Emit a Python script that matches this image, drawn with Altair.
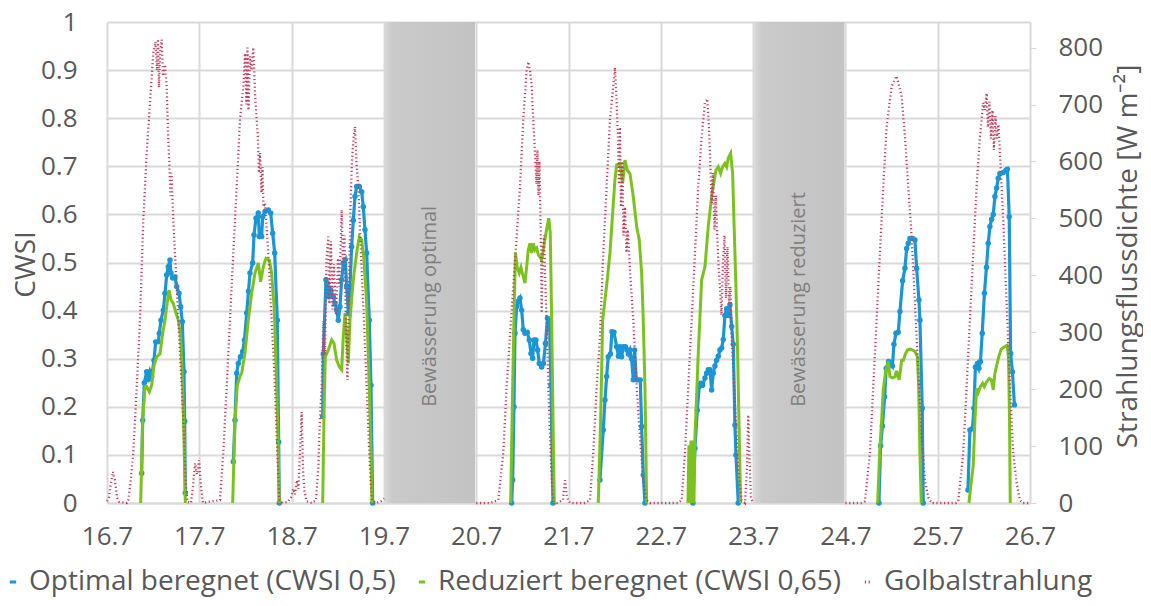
import altair as alt
import pandas as pd
import numpy as np

# ---------------- data (hours since 16.7. 00:00) ----------------
rad_t = [0.0, 0.52, 1.04, 1.56, 2.08, 2.6, 3.12, 5.2, 5.54, 6.24, 6.84, 7.72, 8.58, 9.44, 10.32, 11.18,
         12.04, 12.61, 13.0, 13.26, 13.52, 13.78, 14.22, 14.56, 15.08, 15.52, 15.86, 16.25, 16.51, 16.77,
         17.24, 18.12, 18.98, 19.84, 20.54, 20.93, 21.84, 22.36, 22.88, 23.4, 23.92, 24.44, 24.96,
         27.3, 29.38, 30.24, 31.12, 31.98, 32.84, 33.72, 34.58, 35.44, 35.88, 36.27, 36.53, 36.79, 37.18,
         37.57, 38.04, 38.48, 38.92, 39.26, 39.52, 39.78, 40.17, 40.43, 40.69, 41.08, 41.94, 42.82, 43.68,
         44.28, 44.8, 45.76, 47.06, 47.84, 48.44, 48.88, 49.4, 49.79, 50.18, 50.62, 50.96, 51.35, 51.92,
         53.3, 54.34, 54.94, 55.38, 55.82, 56.29, 56.68, 57.07, 57.54, 57.85, 58.24, 58.63, 59.02, 59.54,
         60.06, 60.45, 61.02, 61.36, 61.75, 62.14, 62.53, 62.92, 63.31, 63.7, 64.09, 64.48, 64.87, 65.34,
         65.78, 66.22, 66.82, 67.52, 68.2, 68.82, 69.94, 71.24, 72.02,
         96.0, 99.58, 101.74, 103.04, 103.92, 104.78, 105.64, 106.52, 107.38, 108.24, 109.12, 109.59,
         109.98, 110.42, 110.84, 111.28, 111.67, 111.93, 112.19, 112.45, 112.84, 113.02, 113.36, 113.62,
         114.01, 114.4, 114.79, 115.18, 115.7, 116.09, 117.0, 118.56, 119.08, 119.6, 120.38,
         124.28, 125.58, 126.44, 127.32, 128.18, 129.04, 129.92, 130.78, 131.64, 132.08, 132.52, 132.86,
         133.12, 133.38, 133.64, 134.03, 134.29, 134.68, 135.07, 135.46, 135.98, 136.84, 137.72, 138.58,
         139.44, 140.32, 141.18,
         148.46, 149.42, 150.28, 151.14, 152.02, 152.88, 153.74, 154.62, 155.48, 156.08, 156.52, 156.78,
         157.22, 157.56, 157.95, 158.34, 158.52, 158.99, 159.38, 159.77, 160.16, 160.55, 160.94, 161.33,
         161.72, 162.11, 162.42, 163.28, 164.14, 165.02, 165.88, 166.4, 166.74, 167.05, 167.44, 167.96,
         192.0, 196.3, 197.08, 198.38, 199.24, 200.12, 200.98, 201.84, 202.72, 204.02, 205.32, 206.62,
         207.48, 208.34, 209.22, 210.08, 210.94, 211.82, 212.68, 213.54, 214.42,
         220.74, 221.34, 222.64, 223.52, 224.38, 225.24, 226.12, 226.98, 227.84, 228.28, 228.72, 229.06,
         229.45, 229.84, 230.23, 230.62, 231.01, 231.4, 231.79, 232.18, 233.04, 233.92, 234.78, 235.64,
         236.52, 237.38, 238.16, 240.0]
rad_v = [3, 10, 35, 55, 40, 10, 2, 0, 5, 45, 88, 204, 322, 497, 615, 703,
         791, 810, 760, 815, 730, 790, 814, 750, 770, 732, 650, 590, 540, 580,
         497, 380, 263, 146, 28, 2, 0, 30, 70, 50, 75, 30, 0,
         3, 5, 88, 204, 322, 439, 556, 673, 732, 790, 700, 800, 690, 785,
         760, 800, 720, 673, 640, 580, 615, 545, 590, 520, 527, 439, 322, 204,
         88, 5, 0, 2, 10, 25, 15, 40, 25, 90, 160, 60, 20, 3,
         0, 5, 60, 150, 204, 320, 260, 430, 468, 350, 460, 340, 420, 330,
         430, 380, 515, 420, 470, 300, 216, 380, 520, 600, 640, 661, 600, 556,
         480, 410, 322, 204, 88, 5, 0, 3, 8,
         0, 0, 5, 88, 204, 292, 380, 468, 556, 673, 761, 775,
         761, 732, 673, 615, 560, 620, 540, 600, 450, 334, 450, 470,
         380, 300, 200, 120, 30, 3, 0, 5, 40, 10, 0,
         0, 5, 88, 204, 292, 439, 556, 673, 732, 765, 703, 640,
         560, 660, 520, 600, 470, 520, 440, 480, 410, 322, 204, 117,
         40, 5, 0,
         0, 5, 88, 204, 322, 439, 556, 644, 703, 710, 660, 615,
         527, 580, 480, 540, 497, 420, 380, 330, 420, 470, 360, 450,
         350, 380, 292, 175, 58, 5, 0, 60, 155, 80, 10, 0,
         0, 0, 3, 88, 204, 322, 439, 556, 661, 732, 750, 714,
         644, 556, 468, 351, 234, 117, 40, 10, 0,
         0, 3, 88, 204, 322, 439, 556, 644, 703, 690, 720, 660,
         705, 640, 690, 620, 680, 640, 665, 615, 497, 351, 204, 88,
         35, 5, 0, 0]

opt_t = [9.02, 9.28, 9.70, 10.32, 10.74, 11.18, 11.62, 12.22, 12.66, 13.34, 13.60, 14.04, 14.64, 15.08,
         15.52, 15.94, 16.38, 16.64, 17.08, 17.68, 18.12, 18.72, 19.16, 19.58, 20.02, 20.2, 20.36,
         32.84, 33.28, 33.72, 34.14, 34.71, 35.28, 35.75, 36.32, 36.79, 37.18, 37.88, 38.22, 38.74, 39.34,
         39.6, 40.22, 40.48, 41.08, 41.94, 42.56, 43.08, 43.6, 44.28, 44.64, 44.8,
         56.08, 56.24, 56.94, 57.28, 57.64, 58.16, 58.84, 59.28, 59.72, 60.14, 60.58, 61.02, 61.44, 61.96,
         62.32, 62.74, 63.18, 63.62, 64.04, 64.48, 64.92, 65.6, 66.22, 66.64, 67.08, 67.52, 68.2, 68.64, 69.08,
         105.22, 105.48, 105.82, 106.08, 106.52, 106.99, 107.38, 107.82, 108.24, 108.68, 109.28, 109.8,
         110.24, 110.68, 111.02, 111.54, 111.98, 112.4, 113.02, 113.49, 114.01, 114.53, 115.05, 115.44, 115.96,
         128.18, 129.04, 129.48, 129.92, 130.34, 130.91, 131.3, 131.82, 132.52, 132.99, 133.38, 133.82,
         134.24, 134.81, 135.2, 135.59, 135.98, 136.42, 136.84, 137.2, 137.62, 138.14, 138.66, 139.02,
         139.44, 139.88,
         152.36, 152.88, 153.48, 154.0, 154.36, 154.88, 155.48, 155.92, 156.34, 156.78, 157.22, 157.64,
         158.08, 158.52, 158.94, 159.38, 159.82, 160.24, 160.68, 161.12, 161.54, 161.98, 162.42, 162.84,
         163.28, 163.54, 164.14,
         200.72, 201.16, 201.63, 202.2, 202.62, 203.24, 203.84, 204.23, 204.62, 205.14, 205.74, 206.18,
         206.88, 207.48, 207.92, 208.34, 208.78, 209.48, 210.08, 210.52, 211.12, 211.38, 211.98, 212.24,
         223.86, 224.38, 225.03, 225.42, 225.81, 226.33, 226.72, 227.11, 227.58, 228.15, 228.67, 229.14,
         229.58, 230.02, 230.44, 230.88, 231.32, 231.74, 232.18, 233.04, 233.74, 234.13, 234.6, 234.96,
         235.43, 235.95]
opt_v = [0.062, 0.172, 0.25, 0.273, 0.256, 0.273, 0.263, 0.297, 0.335, 0.335, 0.353, 0.38, 0.401, 0.436,
         0.474, 0.491, 0.505, 0.478, 0.468, 0.47, 0.45, 0.436, 0.408, 0.377, 0.273, 0.17, 0.021,
         0.086, 0.172, 0.27, 0.29, 0.304, 0.315, 0.339, 0.395, 0.44, 0.478, 0.499, 0.557, 0.592, 0.603,
         0.554, 0.554, 0.595, 0.606, 0.609, 0.603, 0.561, 0.52, 0.38, 0.127, 0.0,
         0.18, 0.31, 0.464, 0.457, 0.429, 0.443, 0.429, 0.415, 0.401, 0.38, 0.408, 0.464, 0.499, 0.506,
         0.45, 0.395, 0.45, 0.533, 0.588, 0.637, 0.658, 0.658, 0.647, 0.616, 0.568, 0.52, 0.38, 0.245, 0.0,
         0.0, 0.048, 0.2, 0.353, 0.408, 0.42, 0.426, 0.401, 0.36, 0.353, 0.355, 0.339,
         0.311, 0.301, 0.339, 0.339, 0.318, 0.29, 0.283, 0.29, 0.332, 0.384, 0.38, 0.245, 0.0,
         0.048, 0.152, 0.214, 0.263, 0.304, 0.31, 0.356, 0.355, 0.325, 0.305, 0.325, 0.304,
         0.325, 0.325, 0.318, 0.31, 0.318, 0.3, 0.256, 0.318, 0.256, 0.256, 0.256, 0.159,
         0.058, 0.0,
         0.0, 0.114, 0.193, 0.242, 0.249, 0.245, 0.26, 0.27, 0.277, 0.277, 0.235, 0.27,
         0.285, 0.297, 0.305, 0.318, 0.322, 0.34, 0.39, 0.404, 0.39, 0.412, 0.367, 0.33,
         0.162, 0.10, 0.0,
         0.0, 0.119, 0.16, 0.221, 0.28, 0.294, 0.29, 0.285, 0.33, 0.353, 0.355, 0.398,
         0.462, 0.488, 0.529, 0.54, 0.55, 0.55, 0.547, 0.488, 0.422, 0.38, 0.197, 0.0,
         0.027, 0.152, 0.155, 0.197, 0.283, 0.29, 0.28, 0.294, 0.353, 0.436, 0.49, 0.54,
         0.575, 0.59, 0.6, 0.637, 0.655, 0.675, 0.685, 0.687, 0.692, 0.694, 0.595, 0.311,
         0.273, 0.204]

red_t = [8.76, 9.28, 9.88, 10.32, 11.0, 11.62, 12.22, 12.92, 13.78, 14.48, 15.08, 15.52, 16.12, 16.64,
         17.24, 17.94, 18.54, 19.16, 19.68, 20.1, 20.36,
         32.68, 33.28, 33.88, 34.58, 35.02, 35.88, 36.74, 37.62, 38.48, 39.34, 39.96, 40.64, 41.34, 42.2,
         42.82, 43.5, 44.12, 44.54, 44.8,
         56.08, 56.42, 56.76, 57.54, 58.42, 59.02, 59.72, 60.4, 61.02, 61.44, 61.88, 62.32, 62.74, 63.18,
         64.04, 64.92, 65.6, 66.22, 66.82, 67.52, 68.2, 68.64, 68.9,
         104.96, 105.48, 105.9, 106.21, 106.68, 107.2, 107.64, 108.24, 108.68, 109.12, 109.54, 109.98,
         110.42, 110.84, 111.28, 111.72, 112.19, 112.58, 113.02, 113.44, 114.22, 114.87, 115.26, 115.62,
         116.04, 116.3,
         127.74, 128.36, 128.88, 129.48, 130.08, 130.78, 131.48, 132.08, 132.52, 133.38, 134.08, 134.68,
         135.28, 135.98, 136.84, 137.72, 138.4, 139.02, 139.44, 139.88, 140.32,
         151.06, 151.32, 151.58, 151.84, 152.1, 152.36, 152.62, 152.88, 153.14, 153.74, 154.62, 155.48,
         156.34, 157.22, 157.64, 158.34, 158.94, 159.56, 160.08, 160.68, 161.12, 161.54, 162.16, 162.68,
         163.02, 163.54, 163.98, 164.4, 164.76,
         200.38, 200.98, 201.42, 201.84, 202.41, 203.14, 203.58, 204.18, 204.88, 205.27, 206.0, 206.62,
         207.09, 207.61, 208.13, 208.78, 209.48, 210.08, 210.73, 211.04, 211.38, 211.72,
         224.12, 224.82, 225.24, 225.68, 226.12, 226.54, 227.11, 227.68, 228.1, 228.72, 229.4, 229.97,
         230.44, 230.88, 231.32, 231.9, 232.52, 233.38, 234.1, 234.42, 234.68, 234.86]
red_v = [0.0, 0.172, 0.242, 0.242, 0.231, 0.245, 0.286, 0.304, 0.31, 0.353, 0.38, 0.408, 0.443, 0.422,
         0.415, 0.395, 0.38, 0.346, 0.242, 0.104, 0.0,
         0.0, 0.172, 0.245, 0.263, 0.27, 0.312, 0.38, 0.436, 0.478, 0.499, 0.46, 0.491, 0.509, 0.505,
         0.478, 0.401, 0.242, 0.104, 0.0,
         0.0, 0.18, 0.304, 0.318, 0.339, 0.332, 0.297, 0.283, 0.277, 0.346, 0.395, 0.346, 0.29, 0.38,
         0.464, 0.52, 0.554, 0.547, 0.505, 0.415, 0.242, 0.104, 0.0,
         0.0, 0.242, 0.415, 0.52, 0.49, 0.478, 0.49, 0.47, 0.457, 0.491, 0.526, 0.54,
         0.52, 0.54, 0.526, 0.53, 0.515, 0.512, 0.505, 0.526, 0.565, 0.592, 0.561, 0.38,
         0.138, 0.0,
         0.0, 0.172, 0.38, 0.422, 0.464, 0.52, 0.603, 0.672, 0.703, 0.706, 0.665, 0.713,
         0.692, 0.685, 0.637, 0.575, 0.547, 0.478, 0.38, 0.242, 0.0,
         0.0, 0.12, 0.0, 0.13, 0.0, 0.13, 0.0, 0.14, 0.187, 0.311, 0.464, 0.491,
         0.575, 0.637, 0.658, 0.692, 0.699, 0.685, 0.699, 0.706, 0.699, 0.717, 0.727, 0.685,
         0.588, 0.45, 0.311, 0.138, 0.0,
         0.0, 0.117, 0.172, 0.235, 0.27, 0.295, 0.263, 0.26, 0.262, 0.275, 0.256, 0.297,
         0.297, 0.31, 0.318, 0.32, 0.318, 0.315, 0.304, 0.242, 0.104, 0.0,
         0.0, 0.05, 0.078, 0.172, 0.238, 0.23, 0.242, 0.249, 0.242, 0.252, 0.259, 0.256,
         0.235, 0.27, 0.285, 0.305, 0.32, 0.325, 0.328, 0.3, 0.172, 0.0]

box_start = [72.3, 168.3]
box_end = [95.7, 191.7]
box_label = ["Bewässerung optimal", "Bewässerung reduziert"]
box_label_t = [84.0, 180.0]
box_label_y = [0.2, 0.2]

x_ticks = [0, 24, 48, 72, 96, 120, 144, 168, 192, 216, 240]
cwsi_ticks = [0, 0.1, 0.2, 0.3, 0.4, 0.5, 0.6, 0.7, 0.8, 0.9, 1]
rad_ticks = [0, 100, 200, 300, 400, 500, 600, 700, 800]

S_OPT = "Optimal beregnet (CWSI 0,5)"
S_RED = "Reduziert beregnet (CWSI 0,65)"
S_RAD = "Golbalstrahlung"
series = [S_OPT, S_RED, S_RAD]
colors = ["#1A96D6", "#7CC21F", "#C2405F"]
dashes = [[1, 0], [1, 0], [1.2, 2.6]]

# ---------------- tables ----------------
rad_df = pd.DataFrame({"t": rad_t, "v": rad_v, "s": S_RAD})
rad_df["seg"] = np.select([rad_df["t"] < 80, rad_df["t"] < 180], [0, 1], 2)
opt_df = pd.DataFrame({"t": opt_t, "v": opt_v, "s": S_OPT})
opt_df["seg"] = (opt_df["t"] // 24).astype(int)
red_df = pd.DataFrame({"t": red_t, "v": red_v, "s": S_RED})
red_df["seg"] = (red_df["t"] // 24).astype(int)
box_df = pd.DataFrame({"t0": box_start, "t1": box_end, "top": [1, 1], "bot": [0, 0]})
lab_df = pd.DataFrame({"t": box_label_t, "y": box_label_y, "label": box_label})

FONT = "Open Sans"
GREY = "#595959"
GRID = "#d9d9d9"

x_axis = alt.Axis(values=x_ticks, labelExpr="(16 + datum.value / 24) + '.7'", grid=True,
                  gridColor=GRID, gridWidth=2, domainColor=GRID, domainWidth=2, ticks=False,
                  labelFlush=False, labelOverlap=False,
                  labelFont=FONT, labelFontSize=26, labelColor=GREY, labelPadding=20, title=None)
x_enc = alt.X("t:Q", scale=alt.Scale(domain=[0, 240], nice=False, zero=False), axis=x_axis)

cwsi_scale = alt.Scale(domain=[0, 1], nice=False)
cwsi_axis = alt.Axis(values=cwsi_ticks, format=".1~f", grid=True, gridColor=GRID, gridWidth=2,
                     domain=False, ticks=False, labelFont=FONT, labelFontSize=26, labelColor=GREY,
                     labelPadding=30, labelFlush=False, title="CWSI", titleFont=FONT, titleFontSize=28,
                     titleFontWeight="normal", titleColor=GREY, titleAngle=270,
                     titleBaseline="alphabetic", titleAlign="center", titleX=-73, titleY=242)
rad_axis = alt.Axis(orient="right", values=rad_ticks, grid=False, domain=False, ticks=True,
                    tickColor=GRID, tickSize=6, labelFont=FONT, labelFontSize=26, labelColor=GREY,
                    labelPadding=22, labelFlush=False, title="Strahlungsflussdichte [W m⁻²]",
                    titleFont=FONT, titleFontSize=28, titleFontWeight="normal", titleColor=GREY,
                    titleAngle=270, titleBaseline="alphabetic", titleAlign="center",
                    titleX=106, titleY=234)

legend = alt.Legend(orient="none", legendX=-108, legendY=546, direction="horizontal", title=None,
                    labelFont=FONT, labelFontSize=28, labelColor=GREY, labelLimit=0,
                    symbolType="stroke", symbolSize=40, symbolStrokeWidth=3, labelOffset=2,
                    columnPadding=12, padding=0)
color_enc = alt.Color("s:N", scale=alt.Scale(domain=series, range=colors), legend=legend)
dash_enc = alt.StrokeDash("s:N", scale=alt.Scale(domain=series, range=dashes), legend=legend)

blue_line = alt.Chart(opt_df).mark_line(strokeWidth=3.2).encode(
    x=x_enc, y=alt.Y("v:Q", scale=cwsi_scale, axis=cwsi_axis),
    color=color_enc, strokeDash=dash_enc, detail="seg:N")
blue_pts = alt.Chart(opt_df).mark_circle(size=30, opacity=1, color=colors[0]).encode(
    x=x_enc, y=alt.Y("v:Q", scale=cwsi_scale, axis=None))
green_line = alt.Chart(red_df).mark_line(strokeWidth=3).encode(
    x=x_enc, y=alt.Y("v:Q", scale=cwsi_scale, axis=None),
    color=color_enc, strokeDash=dash_enc, detail="seg:N")
rad_line = alt.Chart(rad_df).mark_line(strokeWidth=2.3).encode(
    x=x_enc, y=alt.Y("v:Q", scale=alt.Scale(domain=[0, 845], nice=False), axis=rad_axis),
    color=color_enc, strokeDash=dash_enc, detail="seg:N")

grad = alt.Gradient(gradient="linear", x1=0, x2=1, y1=0, y2=0,
                    stops=[alt.GradientStop(color="#d8d8d8", offset=0),
                           alt.GradientStop(color="#cacaca", offset=0.08),
                           alt.GradientStop(color="#c3c3c3", offset=1)])
boxes = alt.Chart(box_df).mark_rect(fill=grad).encode(
    x=alt.X("t0:Q", scale=alt.Scale(domain=[0, 240], nice=False, zero=False), axis=x_axis),
    x2="t1:Q",
    y=alt.Y("top:Q", scale=cwsi_scale, axis=None), y2="bot:Q")
labels = alt.Chart(lab_df).mark_text(angle=270, align="left", baseline="middle", font=FONT,
                                     fontSize=20, color="#7f7f7f").encode(
    x=x_enc, y=alt.Y("y:Q", scale=cwsi_scale, axis=None), text="label:N")

chart = alt.layer(blue_line, blue_pts, green_line, rad_line, boxes, labels).resolve_scale(
    y="independent"
).properties(
    width=923, height=481,
    padding={"left": 99, "top": 14, "right": 113, "bottom": 95},
    autosize=alt.AutoSizeParams(type="none"),
).configure_view(stroke=None).configure(background="white")

chart.save("out.html", embed_options={"renderer": "svg", "actions": False})
